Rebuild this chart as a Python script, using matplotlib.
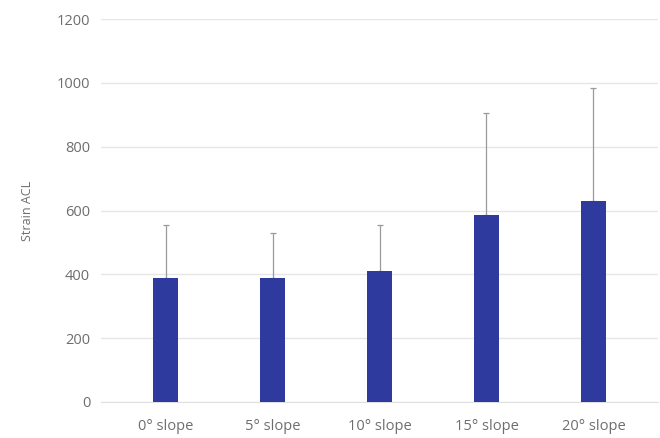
import matplotlib
matplotlib.use('Agg')
import matplotlib.pyplot as plt
import numpy as np

# values
categories = ['0° slope', '5° slope', '10° slope', '15° slope', '20° slope']
strain_mean = [388, 388, 412, 587, 631]
strain_sd = [167, 141, 143, 318, 354]
y_ticks = [0, 200, 400, 600, 800, 1000, 1200]

plt.rcParams['font.family'] = ['Open Sans', 'DejaVu Sans']

fig = plt.figure(figsize=(6.6, 4.38), dpi=100)
ax = fig.add_axes([0.1535, 0.0822, 0.843, 0.8744])

x = np.arange(len(categories))
ax.bar(x, strain_mean, width=0.23, color='#2e3a9e', zorder=3)
ax.errorbar(x, strain_mean, yerr=[np.zeros(len(x)), strain_sd], fmt='none',
            ecolor='#9a9a9a', elinewidth=0.9, capsize=2, capthick=0.9, zorder=2)

ax.set_xlim(-0.6, 4.6)
ax.set_ylim(0, 1200)
ax.set_yticks(y_ticks)
ax.set_xticks(x)
ax.set_xticklabels(categories)
ax.grid(axis='y', color='#e6e6e6', linewidth=1.0, zorder=0)
for s in ['top', 'right', 'left']:
    ax.spines[s].set_visible(False)
ax.spines['bottom'].set_color('#e0e0e0')
ax.tick_params(axis='both', length=0, labelsize=10.5, colors='#6e6e6e')
ax.tick_params(axis='y', pad=8)
ax.tick_params(axis='x', pad=12)
ax.set_ylabel('Strain ACL', fontsize=9, color='#6e6e6e', labelpad=16)

plt.savefig('out.png', dpi=100)
